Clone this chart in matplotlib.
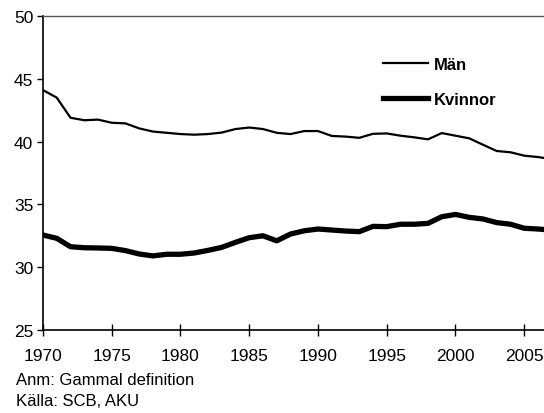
import numpy as np
import matplotlib
matplotlib.use("Agg")
import matplotlib.pyplot as plt

plt.rcParams['font.family'] = ['Liberation Sans', 'DejaVu Sans']

# Data
years = list(range(1970, 2008))
man = [44.1, 43.5, 41.9, 41.7, 41.75, 41.5, 41.45, 41.05, 40.8, 40.7,
       40.6, 40.55, 40.6, 40.72, 41.0, 41.12, 41.0, 40.7, 40.6, 40.84,
       40.84, 40.45, 40.4, 40.3, 40.62, 40.65, 40.47, 40.34, 40.18, 40.68,
       40.47, 40.26, 39.75, 39.25, 39.15, 38.88, 38.77, 38.6]
kvinnor = [32.56, 32.3, 31.63, 31.55, 31.53, 31.5, 31.32, 31.05, 30.9, 31.03,
           31.03, 31.13, 31.34, 31.58, 31.98, 32.35, 32.5, 32.1, 32.64, 32.9,
           33.04, 32.96, 32.88, 32.83, 33.25, 33.23, 33.42, 33.42, 33.49, 34.02,
           34.2, 33.97, 33.84, 33.55, 33.42, 33.1, 33.04, 32.95]
xticks = [1970, 1975, 1980, 1985, 1990, 1995, 2000, 2005]
yticks = [25, 30, 35, 40, 45, 50]

fig = plt.figure(figsize=(5.44, 4.14), dpi=100)
ax = fig.add_axes([43 / 544, 1 - 331 / 414, 1 - 43 / 544, (331 - 17) / 414])

ax.plot(years, man, color='black', lw=1.6, label='Män')
ax.plot(years, kvinnor, color='black', lw=3.8, label='Kvinnor')

ax.set_xlim(1970, 1970 + (544 - 43) / 13.75)
ax.set_ylim(25, 50)
ax.set_xticks(xticks)
ax.set_yticks(yticks)
ax.tick_params(axis='x', direction='inout', length=8, width=1, labelsize=12.5, pad=9)
ax.tick_params(axis='y', direction='out', length=4, width=1, labelsize=12.5, pad=3)

ax.spines['right'].set_visible(False)
ax.spines['top'].set_color('#555555')
ax.spines['top'].set_linewidth(1)
ax.spines['left'].set_linewidth(1.2)
ax.spines['bottom'].set_linewidth(1.2)

leg = ax.legend(loc='upper left', bbox_to_anchor=(0.648, 0.918), frameon=False,
                handlelength=2.75, handletextpad=0.3, labelspacing=1.2,
                prop={'weight': 'bold', 'size': 12})

fig.text(16 / 544, 1 - 381 / 414, 'Anm: Gammal definition', fontsize=12, va='center')
fig.text(16 / 544, 1 - 402 / 414, 'Källa: SCB, AKU', fontsize=12, va='center')

fig.savefig('out.png', dpi=100)
